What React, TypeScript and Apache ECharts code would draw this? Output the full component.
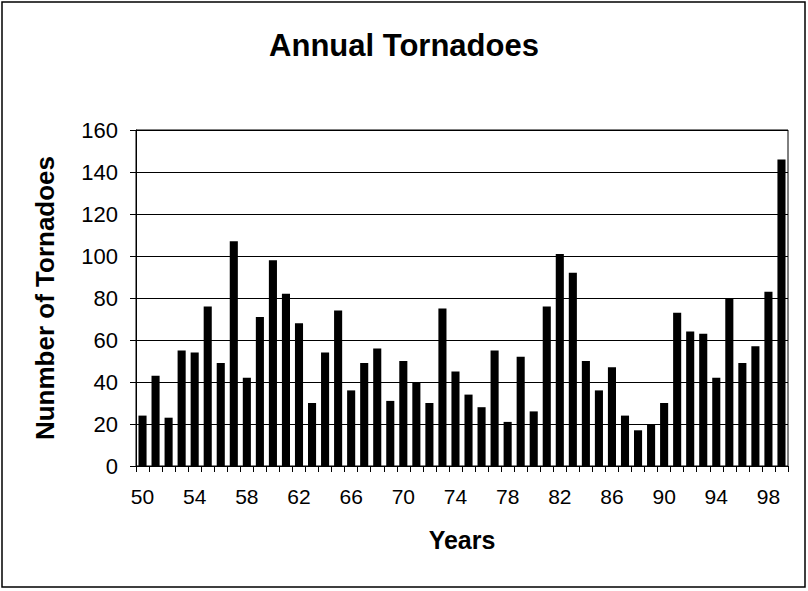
import React, { useEffect, useRef } from "react";
import * as echarts from "echarts";

const years: string[] = [
  "50","51","52","53","54","55","56","57","58","59",
  "60","61","62","63","64","65","66","67","68","69",
  "70","71","72","73","74","75","76","77","78","79",
  "80","81","82","83","84","85","86","87","88","89",
  "90","91","92","93","94","95","96","97","98","99",
];

const tornadoes: number[] = [
  24, 43, 23, 55, 54, 76, 49, 107, 42, 71,
  98, 82, 68, 30, 54, 74, 36, 49, 56, 31,
  50, 40, 30, 75, 45, 34, 28, 55, 21, 52,
  26, 76, 101, 92, 50, 36, 47, 24, 17, 20,
  30, 73, 64, 63, 42, 80, 49, 57, 83, 146,
];

const yTicks = { min: 0, max: 160, interval: 20 };

const FONT = "'Liberation Sans', Arial, sans-serif";

export default function App() {
  const ref = useRef<HTMLDivElement>(null);
  useEffect(() => {
    if (!ref.current) return;
    const chart = echarts.init(ref.current, null, { renderer: "svg" });
    chart.setOption({
      animation: false,
      backgroundColor: "#ffffff",
      title: {
        text: "Annual Tornadoes",
        left: "center",
        top: 25,
        textStyle: { fontFamily: FONT, fontSize: 31, fontWeight: "bold", color: "#000" },
      },
      grid: {
        left: 136,
        right: 20,
        top: 130,
        bottom: 125,
        show: true,
        borderColor: "#000",
        borderWidth: 1,
        backgroundColor: "transparent",
      },
      xAxis: {
        type: "category",
        data: years,
        boundaryGap: true,
        name: "Years",
        nameLocation: "middle",
        nameGap: 61,
        nameTextStyle: { fontFamily: FONT, fontSize: 25, fontWeight: "bold", color: "#000" },
        axisLine: { show: true, lineStyle: { color: "#000", width: 1 } },
        axisTick: { show: true, interval: 0, length: 6, inside: false, lineStyle: { color: "#000" } },
        axisLabel: { interval: 3, margin: 20, fontFamily: FONT, fontSize: 21, color: "#000" },
        splitLine: { show: false },
      },
      yAxis: {
        type: "value",
        min: yTicks.min,
        max: yTicks.max,
        interval: yTicks.interval,
        name: "Nunmber of Tornadoes",
        nameLocation: "middle",
        nameRotate: 90,
        nameGap: 78,
        nameTextStyle: { fontFamily: FONT, fontSize: 26, fontWeight: "bold", color: "#000" },
        axisLine: { show: true, lineStyle: { color: "#000", width: 1 } },
        axisTick: { show: true, length: 6, inside: false, lineStyle: { color: "#000" } },
        axisLabel: { margin: 18, fontFamily: FONT, fontSize: 22, color: "#000" },
        splitLine: { show: true, lineStyle: { color: "#000", width: 1 } },
      },
      series: [
        {
          type: "bar",
          data: tornadoes,
          barCategoryGap: "38%",
          itemStyle: { color: "#000" },
        },
      ],
      graphic: [
        {
          type: "rect",
          shape: { x: 2, y: 2, width: 803, height: 585 },
          style: { fill: "none", stroke: "#000", lineWidth: 1.5 },
          silent: true,
        },
      ],
    });
    return () => chart.dispose();
  }, []);
  return (
    <div
      ref={ref}
      style={{ position: "fixed", left: 0, top: 0, width: 808, height: 591 }}
    />
  );
}
